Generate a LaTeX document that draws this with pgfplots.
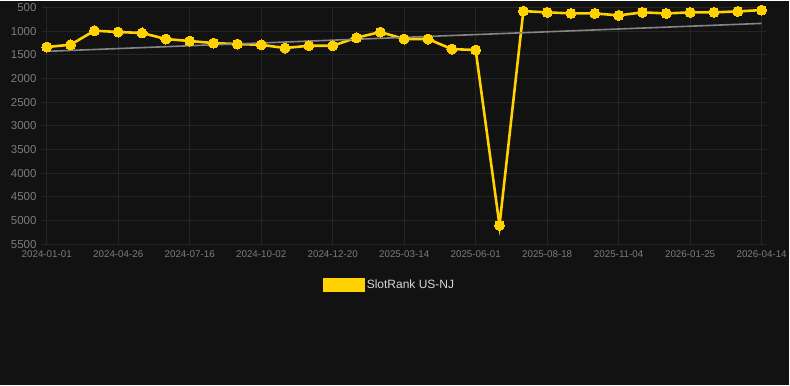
\documentclass[border=0pt]{standalone}
\usepackage{pgfplots}
\pgfplotsset{compat=1.18}
\usepackage{fontspec}
\setmainfont{Liberation Sans}
\definecolor{bg}{HTML}{121212}
\definecolor{gridc}{HTML}{252525}
\definecolor{ticklab}{HTML}{7C7C7C}
\definecolor{slot}{HTML}{FFD200}
\definecolor{trend}{HTML}{858585}
\definecolor{legtext}{HTML}{D8D8D8}
\begin{document}
\begin{tikzpicture}
\fill[bg] (0pt,0pt) rectangle (790pt,-384pt);
\begin{axis}[
  at={(42pt,-243pt)}, anchor=south west,
  scale only axis, width=725pt, height=237pt,
  y dir=reverse,
  xmin=-0.2, xmax=30.2, ymin=500, ymax=5500,
  ytick={500,1000,...,5500},
  xtick={0,3,...,30},
  xticklabels={2024-01-01,2024-04-26,2024-07-16,2024-10-02,2024-12-20,2025-03-14,2025-06-01,2025-08-18,2025-11-04,2026-01-25,2026-04-14},
  grid=major,
  major grid style={draw=gridc, line width=0.8pt},
  axis line style={draw=none},
  major tick length=0pt,
  tick style={draw=none},
  /pgf/number format/assume math mode=true,
  /pgf/number format/1000 sep={},
  yticklabel style={font=\fontsize{11.5}{12}\selectfont, text=ticklab, xshift=-2pt},
  xticklabel style={font=\fontsize{9.8}{11}\selectfont, text=ticklab, yshift=-3pt},
  legend style={at={(0.48,-0.173)}, anchor=center, draw=none, fill=none,
    font=\fontsize{12}{14}\selectfont, text=legtext},
  legend image code/.code={\fill[slot] (0pt,-6pt) rectangle (39pt,6pt);},
]
\addplot[slot, line width=2.6pt, mark=*, mark size=5pt, mark options={fill=slot, draw=slot, line width=0pt}] coordinates {
(0,1337) (1,1288) (2,992) (3,1020) (4,1040) (5,1168) (6,1210) (7,1253) (8,1274) (9,1290)
(10,1358) (11,1310) (12,1310) (13,1140) (14,1020) (15,1168) (16,1168) (17,1380) (18,1400) (19,5100)
(20,578) (21,605) (22,627) (23,627) (24,669) (25,605) (26,627) (27,605) (28,605) (29,584) (30,557)
};
\addlegendentry{SlotRank US-NJ}
\addplot[trend, line width=1.6pt, forget plot] coordinates {(0,1428) (30,838)};
\end{axis}
\end{tikzpicture}
\end{document}
